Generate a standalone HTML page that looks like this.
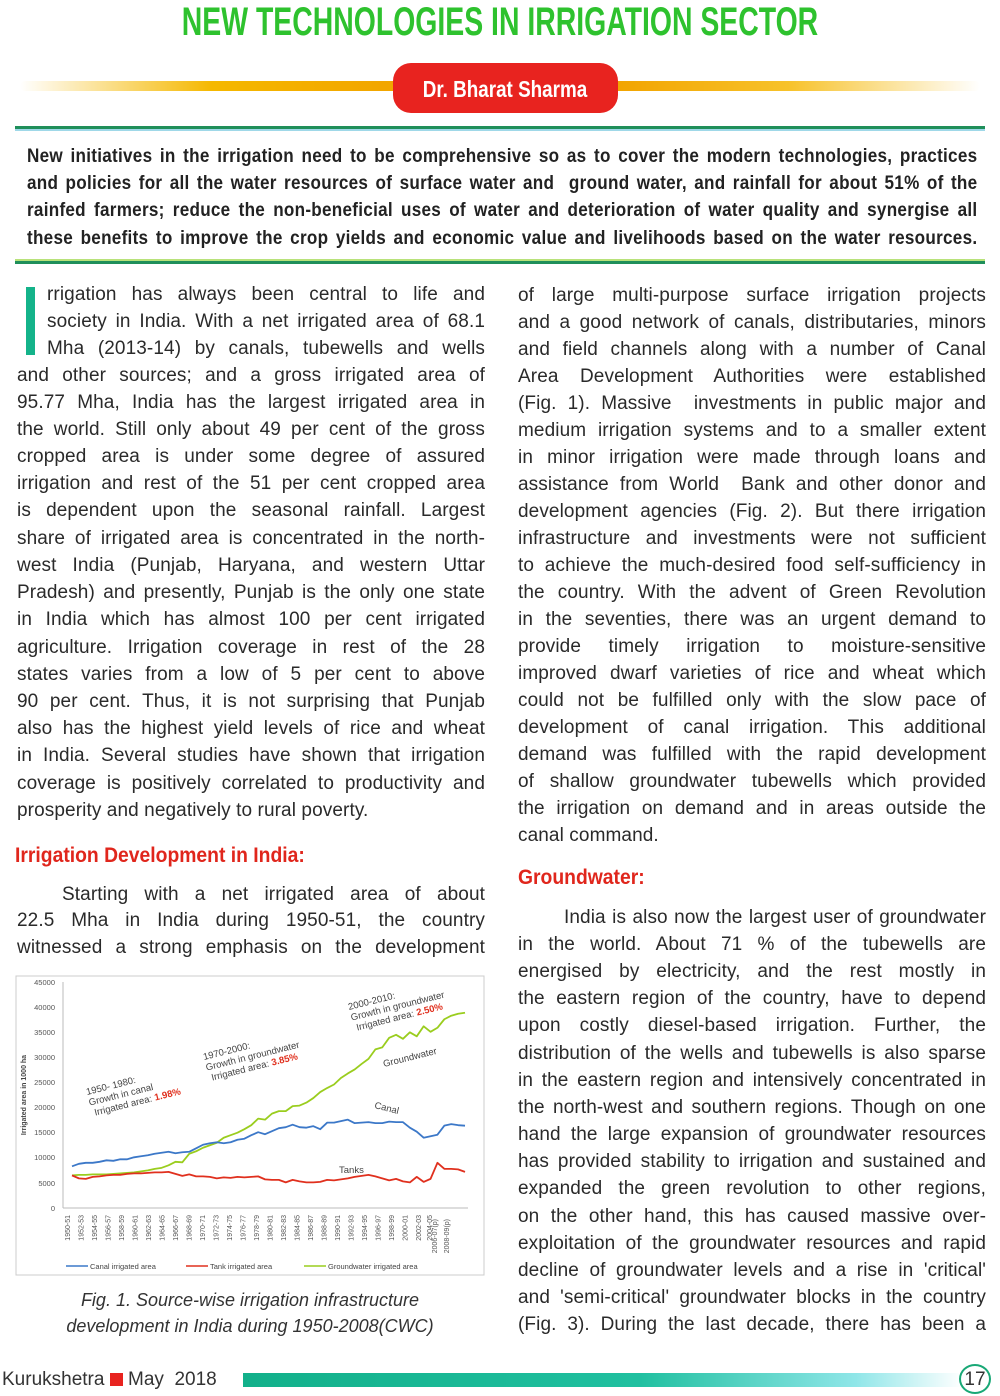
<!DOCTYPE html>
<html><head><meta charset="utf-8"><style>
body{margin:0;width:1000px;height:1396px;background:#fff;position:relative;overflow:hidden;font-family:"Liberation Sans",sans-serif;color:#2a2a2a}
.a{position:absolute}
.l{position:absolute;font-size:19px;line-height:24px;height:24px;text-align:justify;text-align-last:justify;white-space:nowrap;overflow:visible;letter-spacing:0.1px}
.L{left:17px;width:468px}
.R{left:518px;width:468px}
.ab{position:absolute;left:27px;width:1056px;transform:scaleX(0.9);transform-origin:0 0;font-weight:bold;font-size:19px;letter-spacing:0.3px;line-height:24px;text-align:justify;text-align-last:justify;white-space:nowrap;color:#222}
.h{position:absolute;font-weight:bold;color:#e0261c;font-size:21px;transform:scaleX(0.92);transform-origin:0 0}
</style></head><body>
<div class="a" style="left:-150px;top:-2px;width:1300px;text-align:center;font-weight:bold;font-size:40px;line-height:48px;color:#2ec22e;transform:scaleX(0.71)">NEW TECHNOLOGIES IN IRRIGATION SECTOR</div>
<div class="a" style="left:20px;top:81px;width:960px;height:10px;border-radius:5px;background:linear-gradient(90deg,rgba(255,200,0,0),#f5b800 20%,#f2a400 40%,#f2a400 62%,#f7c22a 80%,rgba(255,230,120,0))"></div>
<div class="a" style="left:393px;top:63px;width:225px;height:50px;border-radius:18px;background:#e8231f"></div>
<div class="a" style="left:355px;top:63px;width:300px;height:50px;color:#fff;font-weight:bold;font-size:23px;line-height:52px;text-align:center;transform:scaleX(0.82)">Dr. Bharat Sharma</div>
<div class="a" style="left:15px;top:126px;width:970px;height:3px;background:#1f8f5a"></div>
<div class="a" style="left:15px;top:129px;width:970px;height:2px;background:#9fd8e8"></div>
<div class="ab" style="top:145px">New initiatives in the irrigation need to be comprehensive so as to cover the modern technologies, practices</div>
<div class="ab" style="top:172px">and policies for all the water resources of surface water and &nbsp;ground water, and rainfall for about 51% of the</div>
<div class="ab" style="top:199px">rainfed farmers; reduce the non-beneficial uses of water and deterioration of water quality and synergise all</div>
<div class="ab" style="top:227px">these benefits to improve the crop yields and economic value and livelihoods based on the water resources.</div>
<div class="a" style="left:15px;top:259px;width:970px;height:2px;background:#b8e27a"></div>
<div class="a" style="left:15px;top:261px;width:970px;height:3px;background:#1f8f5a"></div>

<div class="a" style="left:26px;top:287px;width:9px;height:68px;background:#14b38a"></div>
<div class="l" style="left:47px;width:438px;top:283px">rrigation has always been central to life and</div>
<div class="l" style="left:47px;width:438px;top:310px">society in India. With a net irrigated area of 68.1</div>
<div class="l" style="left:47px;width:438px;top:337px">Mha (2013-14) by canals, tubewells and wells</div>
<div class="l L" style="top:364px">and other sources; and a gross irrigated area of</div>
<div class="l L" style="top:391px">95.77 Mha, India has the largest irrigated area in</div>
<div class="l L" style="top:418px">the world. Still only about 49 per cent of the gross</div>
<div class="l L" style="top:445px">cropped area is under some degree of assured</div>
<div class="l L" style="top:472px">irrigation and rest of the 51 per cent cropped area</div>
<div class="l L" style="top:499px">is dependent upon the seasonal rainfall. Largest</div>
<div class="l L" style="top:527px">share of irrigated area is concentrated in the north-</div>
<div class="l L" style="top:554px">west India (Punjab, Haryana, and western Uttar</div>
<div class="l L" style="top:581px">Pradesh) and presently, Punjab is the only one state</div>
<div class="l L" style="top:608px">in India which has almost 100 per cent irrigated</div>
<div class="l L" style="top:636px">agriculture. Irrigation coverage in rest of the 28</div>
<div class="l L" style="top:663px">states varies from a low of 5 per cent to above</div>
<div class="l L" style="top:690px">90 per cent. Thus, it is not surprising that Punjab</div>
<div class="l L" style="top:717px">also has the highest yield levels of rice and wheat</div>
<div class="l L" style="top:744px">in India. Several studies have shown that irrigation</div>
<div class="l L" style="top:772px">coverage is positively correlated to productivity and</div>
<div class="l L" style="top:799px;text-align-last:left">prosperity and negatively to rural poverty.</div>
<div class="h" style="left:15px;top:844px">Irrigation Development in India:</div>
<div class="l" style="left:62px;width:423px;top:883px">Starting with a net irrigated area of about</div>
<div class="l L" style="top:909px">22.5 Mha in India during 1950-51, the country</div>
<div class="l L" style="top:936px">witnessed a strong emphasis on the development</div>

<svg class="a" style="left:15px;top:975px" width="472" height="302" viewBox="15 975 472 302">
<rect x="16" y="976" width="468" height="299" fill="#fff" stroke="#ccc"/>
<g font-family="Liberation Sans,sans-serif" font-size="7.5" fill="#555" text-anchor="end">
<text x="55" y="985">45000</text><text x="55" y="1010">40000</text><text x="55" y="1035">35000</text><text x="55" y="1060">30000</text><text x="55" y="1085">25000</text><text x="55" y="1110">20000</text><text x="55" y="1135">15000</text><text x="55" y="1160">10000</text><text x="55" y="1186">5000</text><text x="55" y="1211">0</text>
</g>
<text transform="translate(26,1095) rotate(-90)" font-family="Liberation Sans,sans-serif" font-size="7" font-weight="bold" fill="#444" text-anchor="middle">Irrigated area in 1000 ha</text>
<line x1="63" y1="982" x2="63" y2="1208" stroke="#bbb"/>
<line x1="63" y1="1208" x2="468" y2="1208" stroke="#bbb"/>
<g font-family="Liberation Sans,sans-serif" font-size="7" fill="#555" text-anchor="end">
<text transform="translate(70,1215) rotate(-90)">1950-51</text><text transform="translate(83.5,1215) rotate(-90)">1952-53</text><text transform="translate(97,1215) rotate(-90)">1954-55</text><text transform="translate(110.5,1215) rotate(-90)">1956-57</text><text transform="translate(124,1215) rotate(-90)">1958-59</text><text transform="translate(137.5,1215) rotate(-90)">1960-61</text><text transform="translate(151,1215) rotate(-90)">1962-63</text><text transform="translate(164.5,1215) rotate(-90)">1964-65</text><text transform="translate(178,1215) rotate(-90)">1966-67</text><text transform="translate(191.5,1215) rotate(-90)">1968-69</text><text transform="translate(205,1215) rotate(-90)">1970-71</text><text transform="translate(218.5,1215) rotate(-90)">1972-73</text><text transform="translate(232,1215) rotate(-90)">1974-75</text><text transform="translate(245.5,1215) rotate(-90)">1976-77</text><text transform="translate(259,1215) rotate(-90)">1978-79</text><text transform="translate(272.5,1215) rotate(-90)">1980-81</text><text transform="translate(286,1215) rotate(-90)">1982-83</text><text transform="translate(299.5,1215) rotate(-90)">1984-85</text><text transform="translate(313,1215) rotate(-90)">1986-87</text><text transform="translate(326.5,1215) rotate(-90)">1988-89</text><text transform="translate(340,1215) rotate(-90)">1990-91</text><text transform="translate(353.5,1215) rotate(-90)">1992-93</text><text transform="translate(367,1215) rotate(-90)">1994-95</text><text transform="translate(380.5,1215) rotate(-90)">1996-97</text><text transform="translate(394,1215) rotate(-90)">1998-99</text><text transform="translate(407.5,1215) rotate(-90)">2000-01</text><text transform="translate(421,1215) rotate(-90)">2002-03</text><text transform="translate(432,1215) rotate(-90)">2004-05</text><text transform="translate(437,1219) rotate(-90)">2006-07(p)</text><text transform="translate(449,1219) rotate(-90)">2008-09(p)</text>
</g>
<g transform="translate(72,1208) scale(6.895,-5.02)" fill="none" stroke-width="1.8" stroke-linejoin="round">
<polyline vector-effect="non-scaling-stroke" stroke="#9acd1e" points="0,6.5 1,6.6 2,6.6 3,6.7 4,6.7 5,6.7 6,6.8 7,6.9 8,7.0 9,7.1 10,7.3 11,7.5 12,7.8 13,8.0 14,8.5 15,9.2 16,9.1 17,10.8 18,11.3 19,12.0 20,12.5 21,13.0 22,14.0 23,14.5 24,15.0 25,15.7 26,16.5 27,17.8 28,17.6 29,18.8 30,19.3 31,19.3 32,20.3 33,20.4 34,21.0 35,21.9 36,23.1 37,23.9 38,24.6 39,25.9 40,26.8 41,27.6 42,28.7 43,29.7 44,31.6 45,32.0 46,33.9 47,34.5 48,33.7 49,35.0 50,34.2 51,36.2 52,35.1 53,35.9 54,37.6 55,38.3 56,38.7 57,38.9"/>
<polyline vector-effect="non-scaling-stroke" stroke="#3c78c8" points="0,8.3 1,8.8 2,9.0 3,9.0 4,9.2 5,9.5 6,9.4 7,9.7 8,9.7 9,10.1 10,10.3 11,10.5 12,10.8 13,11.0 14,11.2 15,10.9 16,11.1 17,11.2 18,11.9 19,12.6 20,12.9 21,13.1 22,12.9 23,13.1 24,13.6 25,13.8 26,14.5 27,15.1 28,14.7 29,15.3 30,15.9 31,16.1 32,16.6 33,16.1 34,16.0 35,16.3 36,15.7 37,17.0 38,17.0 39,17.3 40,17.6 41,16.9 42,17.0 43,17.1 44,16.9 45,16.9 46,17.2 47,17.1 48,17.1 49,16.0 50,15.2 51,14.0 52,14.3 53,14.6 54,16.4 55,16.7 56,16.5 57,16.4"/>
<polyline vector-effect="non-scaling-stroke" stroke="#e0301e" points="0,6.5 1,5.9 2,5.8 3,6.2 4,6.3 5,6.5 6,6.6 7,6.6 8,6.8 9,6.9 10,6.9 11,7.0 12,7.1 13,7.1 14,7.2 15,6.8 16,6.4 17,6.7 18,6.3 19,6.3 20,6.2 21,5.9 22,6.1 23,6.0 24,6.2 25,6.1 26,6.2 27,6.3 28,5.7 29,5.6 30,5.6 31,5.1 32,5.6 33,5.3 34,5.1 35,5.1 36,5.2 37,5.6 38,5.5 39,5.7 40,5.9 41,6.2 42,6.4 43,6.6 44,6.3 45,5.9 46,5.5 47,5.8 48,5.3 49,5.1 50,6.2 51,5.2 52,5.8 53,9.0 54,7.8 55,7.8 56,7.7 57,7.2"/>
</g>
<g font-family="Liberation Sans,sans-serif" font-size="9.5" fill="#444">
<g transform="translate(87,1095) rotate(-14)"><text>1950- 1980:</text><text y="11">Growth in canal</text><text y="22" x="3">Irrigated area: <tspan fill="#e0301e" font-weight="bold">1.98%</tspan></text></g>
<g transform="translate(204,1060) rotate(-14)"><text>1970-2000:</text><text y="11">Growth in groundwater</text><text y="22" x="3">Irrigated area: <tspan fill="#e0301e" font-weight="bold">3.85%</tspan></text></g>
<g transform="translate(349,1010) rotate(-14)"><text>2000-2010:</text><text y="11">Growth in groundwater</text><text y="22" x="3">Irrigated area: <tspan fill="#e0301e" font-weight="bold">2.50%</tspan></text></g>
<text transform="translate(384,1067) rotate(-14)">Groundwater</text>
<text transform="translate(374,1108) rotate(14)">Canal</text>
<text x="339" y="1173">Tanks</text>
</g>
<g font-family="Liberation Sans,sans-serif" font-size="7.5" fill="#444">
<line x1="66" y1="1266" x2="88" y2="1266" stroke="#3c78c8" stroke-width="1.5"/><text x="90" y="1269">Canal irrigated area</text>
<line x1="186" y1="1266" x2="208" y2="1266" stroke="#e0301e" stroke-width="1.5"/><text x="210" y="1269">Tank irrigated area</text>
<line x1="304" y1="1266" x2="326" y2="1266" stroke="#9acd1e" stroke-width="1.5"/><text x="328" y="1269">Groundwater irrigated area</text>
</g>
</svg>
<div class="a" style="left:15px;top:1287px;width:470px;text-align:center;font-style:italic;font-size:18px;line-height:26px;color:#333">Fig. 1. Source-wise irrigation infrastructure<br>development in India during 1950-2008(CWC)</div>

<div class="l R" style="top:284px">of large multi-purpose surface irrigation projects</div>
<div class="l R" style="top:311px">and a good network of canals, distributaries, minors</div>
<div class="l R" style="top:338px">and field channels along with a number of Canal</div>
<div class="l R" style="top:365px">Area Development Authorities were established</div>
<div class="l R" style="top:392px">(Fig. 1). Massive &nbsp;investments in public major and</div>
<div class="l R" style="top:419px">medium irrigation systems and to a smaller extent</div>
<div class="l R" style="top:446px">in minor irrigation were made through loans and</div>
<div class="l R" style="top:473px">assistance from World &nbsp;Bank and other donor and</div>
<div class="l R" style="top:500px">development agencies (Fig. 2). But there irrigation</div>
<div class="l R" style="top:527px">infrastructure and investments were not sufficient</div>
<div class="l R" style="top:554px">to achieve the much-desired food self-sufficiency in</div>
<div class="l R" style="top:581px">the country. With the advent of Green Revolution</div>
<div class="l R" style="top:608px">in the seventies, there was an urgent demand to</div>
<div class="l R" style="top:635px">provide timely irrigation to moisture-sensitive</div>
<div class="l R" style="top:662px">improved dwarf varieties of rice and wheat which</div>
<div class="l R" style="top:689px">could not be fulfilled only with the slow pace of</div>
<div class="l R" style="top:716px">development of canal irrigation. This additional</div>
<div class="l R" style="top:743px">demand was fulfilled with the rapid development</div>
<div class="l R" style="top:770px">of shallow groundwater tubewells which provided</div>
<div class="l R" style="top:797px">the irrigation on demand and in areas outside the</div>
<div class="l R" style="top:824px;text-align-last:left">canal command.</div>
<div class="h" style="left:518px;top:866px">Groundwater:</div>
<div class="l" style="left:564px;width:422px;top:906px">India is also now the largest user of groundwater</div>
<div class="l R" style="top:933px">in the world. About 71 % of the tubewells are</div>
<div class="l R" style="top:960px">energised by electricity, and the rest mostly in</div>
<div class="l R" style="top:987px">the eastern region of the country, have to depend</div>
<div class="l R" style="top:1014px">upon costly diesel-based irrigation. Further, the</div>
<div class="l R" style="top:1042px">distribution of the wells and tubewells is also sparse</div>
<div class="l R" style="top:1069px">in the eastern region and intensively concentrated in</div>
<div class="l R" style="top:1096px">the north-west and southern regions. Though on one</div>
<div class="l R" style="top:1123px">hand the large expansion of groundwater resources</div>
<div class="l R" style="top:1150px">has provided stability to irrigation and sustained and</div>
<div class="l R" style="top:1177px">expanded the green revolution to other regions,</div>
<div class="l R" style="top:1205px">on the other hand, this has caused massive over-</div>
<div class="l R" style="top:1232px">exploitation of the groundwater resources and rapid</div>
<div class="l R" style="top:1259px">decline of groundwater levels and a rise in 'critical'</div>
<div class="l R" style="top:1286px">and 'semi-critical' groundwater blocks in the country</div>
<div class="l R" style="top:1313px">(Fig. 3). During the last decade, there has been a</div>

<div class="a" style="left:2px;top:1368px;font-size:19px;line-height:24px;color:#333">Kurukshetra <span style="display:inline-block;width:13px;height:13px;background:#e8231f;vertical-align:-1px"></span> May &nbsp;2018</div>
<div class="a" style="left:243px;top:1373px;width:720px;height:14px;background:linear-gradient(90deg,#12b08a,#20c0a0 55%,#8fe6e8 85%,rgba(200,250,250,0))"></div>
<div class="a" style="left:959px;top:1364px;width:32px;height:30px;border:2px solid #19a876;border-radius:50%;box-sizing:border-box;text-align:center;font-size:19px;line-height:28px;color:#333">17</div>
</body></html>
